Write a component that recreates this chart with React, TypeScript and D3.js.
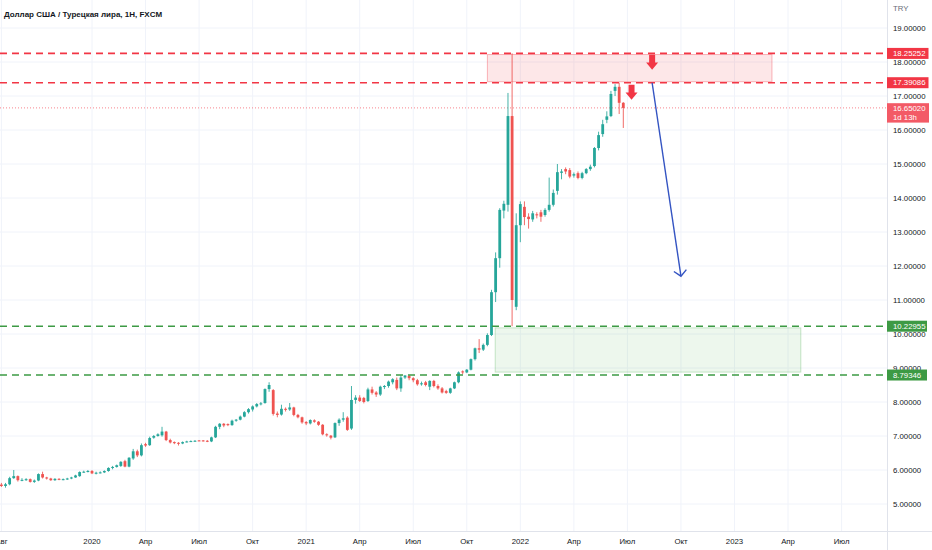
import React from 'react';
import * as d3 from 'd3';

const W = 932;
const H = 550;

const TITLE = 'Доллар США / Турецкая лира, 1Н, FXCM';
const START = '2019-07-29';

const opens = [
  5.55, 5.57, 5.53, 5.58, 5.76, 5.82, 5.70, 5.71, 5.73, 5.65,
  5.69, 5.88, 5.78, 5.75, 5.70, 5.74, 5.72, 5.73, 5.75, 5.78,
  5.82, 5.94, 5.95, 5.97, 5.90, 5.92, 5.93, 5.97, 6.06, 6.09,
  6.12, 6.26, 6.10, 6.34, 6.55, 6.43, 6.76, 6.73, 6.95, 7.00,
  7.02, 7.13, 6.88, 6.82, 6.80, 6.78, 6.82, 6.84, 6.85, 6.87,
  6.87, 6.86, 6.84, 6.96, 7.27, 7.36, 7.35, 7.32, 7.45, 7.48,
  7.57, 7.70, 7.78, 7.87, 7.95, 7.97, 8.38, 8.35, 7.66, 7.63,
  7.80, 7.78, 7.84, 7.62, 7.55, 7.41, 7.37, 7.46, 7.42, 7.33,
  7.05, 7.01, 6.96, 7.38, 7.48, 7.54, 7.22, 8.06, 8.13, 8.12,
  8.03, 8.37, 8.28, 8.22, 8.44, 8.47, 8.58, 8.65, 8.40, 8.72,
  8.77, 8.70, 8.64, 8.52, 8.58, 8.45, 8.62, 8.47, 8.40, 8.32,
  8.27, 8.40, 8.58, 8.90, 8.87, 8.95, 9.26, 9.58, 9.54, 9.68,
  9.97, 11.23, 12.23, 13.63, 13.80, 16.41, 10.80, 13.20, 13.74, 13.45,
  13.37, 13.52, 13.58, 13.50, 13.65, 13.80, 14.21, 14.74, 14.85, 14.82,
  14.66, 14.73, 14.59, 14.73, 14.85, 14.94, 15.47, 15.88, 16.30, 16.41,
  17.15, 17.27, 16.80,
];

const highs = [
  5.60, 5.62, 5.62, 5.80, 6.00, 5.84, 5.76, 5.76, 5.75, 5.72,
  5.90, 5.95, 5.80, 5.77, 5.76, 5.76, 5.75, 5.77, 5.80, 5.86,
  5.96, 5.98, 6.00, 6.00, 5.95, 5.96, 5.99, 6.08, 6.12, 6.16,
  6.26, 6.30, 6.38, 6.62, 6.60, 6.78, 6.80, 6.98, 7.03, 7.08,
  7.27, 7.15, 6.92, 6.84, 6.82, 6.84, 6.86, 6.87, 6.88, 6.88,
  6.88, 6.88, 6.98, 7.30, 7.38, 7.38, 7.37, 7.48, 7.50, 7.60,
  7.73, 7.82, 7.90, 7.97, 8.00, 8.40, 8.58, 8.38, 7.72, 7.92,
  7.84, 7.97, 7.86, 7.65, 7.57, 7.44, 7.49, 7.49, 7.44, 7.35,
  7.08, 7.03, 7.40, 7.52, 7.70, 7.58, 8.47, 8.20, 8.20, 8.15,
  8.42, 8.45, 8.32, 8.48, 8.50, 8.63, 8.70, 8.72, 8.79, 8.79,
  8.79, 8.73, 8.68, 8.60, 8.62, 8.64, 8.65, 8.52, 8.44, 8.36,
  8.42, 8.60, 8.90, 8.93, 8.97, 9.28, 9.60, 9.85, 9.72, 10.02,
  11.30, 12.40, 13.70, 13.92, 17.09, 18.25252, 13.55, 13.90, 13.90, 13.55,
  13.62, 13.58, 13.65, 13.70, 14.60, 14.25, 15.00, 14.85, 14.90, 14.88,
  14.75, 14.78, 14.77, 14.88, 14.98, 15.50, 15.95, 16.30, 16.55, 17.15,
  17.35, 17.39086, 16.82,
];

const lows = [
  5.52, 5.50, 5.48, 5.55, 5.74, 5.66, 5.67, 5.68, 5.63, 5.62,
  5.67, 5.75, 5.72, 5.68, 5.68, 5.70, 5.70, 5.71, 5.73, 5.77,
  5.80, 5.92, 5.93, 5.88, 5.87, 5.90, 5.91, 5.95, 6.02, 6.07,
  6.09, 6.08, 6.08, 6.30, 6.38, 6.40, 6.68, 6.71, 6.92, 6.98,
  6.98, 6.85, 6.78, 6.76, 6.72, 6.76, 6.81, 6.83, 6.84, 6.85,
  6.84, 6.82, 6.82, 6.94, 7.20, 7.26, 7.29, 7.30, 7.42, 7.46,
  7.55, 7.66, 7.72, 7.84, 7.90, 7.95, 8.30, 7.60, 7.55, 7.60,
  7.72, 7.74, 7.58, 7.52, 7.36, 7.32, 7.34, 7.39, 7.30, 7.02,
  6.98, 6.90, 6.94, 7.30, 7.42, 7.15, 7.18, 7.95, 8.00, 7.96,
  8.00, 8.22, 8.15, 8.18, 8.38, 8.42, 8.52, 8.35, 8.30, 8.68,
  8.64, 8.58, 8.48, 8.48, 8.46, 8.35, 8.43, 8.36, 8.25, 8.24,
  8.24, 8.38, 8.55, 8.82, 8.85, 8.93, 9.22, 9.44, 9.50, 9.64,
  9.94, 10.94, 11.95, 13.40, 13.60, 10.22955, 10.70, 12.70, 13.20, 13.10,
  13.30, 13.40, 13.30, 13.45, 13.60, 13.75, 14.10, 14.55, 14.70, 14.58,
  14.60, 14.55, 14.55, 14.70, 14.80, 14.90, 15.40, 15.80, 16.20, 16.38,
  17.00, 16.47, 16.06,
];

const closes = [
  5.57, 5.53, 5.58, 5.76, 5.82, 5.70, 5.71, 5.73, 5.65, 5.69,
  5.88, 5.78, 5.75, 5.70, 5.74, 5.72, 5.73, 5.75, 5.78, 5.84,
  5.94, 5.95, 5.97, 5.90, 5.92, 5.93, 5.97, 6.06, 6.09, 6.14,
  6.24, 6.10, 6.36, 6.55, 6.43, 6.73, 6.72, 6.94, 7.00, 7.05,
  7.13, 6.88, 6.81, 6.79, 6.78, 6.82, 6.84, 6.85, 6.86, 6.86,
  6.85, 6.84, 6.96, 7.27, 7.36, 7.31, 7.32, 7.45, 7.48, 7.57,
  7.70, 7.79, 7.87, 7.94, 7.96, 8.38, 8.50, 7.65, 7.62, 7.80,
  7.77, 7.84, 7.62, 7.55, 7.40, 7.37, 7.47, 7.42, 7.33, 7.05,
  7.02, 6.95, 7.38, 7.48, 7.52, 7.18, 8.06, 8.13, 8.03, 8.00,
  8.37, 8.27, 8.22, 8.45, 8.47, 8.60, 8.67, 8.40, 8.72, 8.78,
  8.70, 8.64, 8.52, 8.55, 8.50, 8.62, 8.47, 8.40, 8.28, 8.27,
  8.40, 8.58, 8.87, 8.87, 8.95, 9.26, 9.58, 9.54, 9.68, 9.97,
  11.23, 12.23, 13.65, 13.83, 16.41, 11.00, 13.20, 13.82, 13.44, 13.38,
  13.55, 13.49, 13.45, 13.65, 13.80, 14.15, 14.76, 14.78, 14.78, 14.63,
  14.70, 14.59, 14.73, 14.85, 14.92, 15.47, 15.85, 16.17, 16.40, 17.06,
  17.27, 16.80, 16.6502,
];

const priceTicks = [5, 6, 7, 8, 9, 10, 11, 12, 13, 14, 15, 16, 17, 18, 19];
const tickDates = [
  '2019-08-05', '2020-01-06', '2020-04-06', '2020-07-06', '2020-10-05',
  '2021-01-04', '2021-04-05', '2021-07-05', '2021-10-04', '2022-01-03',
  '2022-04-04', '2022-07-04', '2022-10-03', '2023-01-02', '2023-04-03', '2023-07-03',
];
const tickLabels = [
  'Авг', '2020', 'Апр', 'Июл', 'Окт', '2021', 'Апр', 'Июл', 'Окт',
  '2022', 'Апр', 'Июл', 'Окт', '2023', 'Апр', 'Июл',
];

const resistanceLevels = [18.25252, 17.39086];
const supportLevels = [10.22955, 8.79346];
const lastPrice = 16.6502;
const countdown = '1d 13h';

// zones: [startBar, endBar, priceTop, priceBottom]
const sellZone = [119, 188.1, 18.22, 17.42];
const buyZone = [120.9, 195.1, 10.18, 8.88];
// projection arrow: [bar, price] -> [bar, price]
const projFrom = [159, 17.39];
const projTo = [166, 11.7];
// down markers: [bar, top price]
const downMarkers = [[159, 18.21], [154, 17.33]];

const UP = '#26a69a';
const DOWN = '#ef5350';
const RED = '#f23645';
const GREEN = '#3d9a44';
const FONT = '"Liberation Sans", Arial, sans-serif';

function barOf(date: string) {
  return (Date.parse(date) - Date.parse(START)) / (7 * 86400000);
}

export default function App() {
  const plotRight = 887;
  const plotBottom = 531.5;
  const x = d3.scaleLinear().domain([23, 179]).range([92, 734.5]);
  const y = d3.scaleLinear().domain([5, 19]).range([504, 28]);
  const bodyW = 2.8;

  const candles = closes.map((c, i) => {
    const o = opens[i];
    const up = c >= o;
    const col = up ? UP : DOWN;
    const cx = x(i);
    const yt = y(Math.max(o, c));
    const yb = y(Math.min(o, c));
    return (
      <g key={i}>
        <line x1={cx} x2={cx} y1={y(highs[i])} y2={y(lows[i])} stroke={col} strokeWidth={1} opacity={0.85} />
        <rect x={cx - bodyW / 2} y={yt} width={bodyW} height={Math.max(1, yb - yt)} fill={col} />
      </g>
    );
  });

  const p1 = [x(projFrom[0]), y(projFrom[1])];
  const p2 = [x(projTo[0]), y(projTo[1])];
  const ang = Math.atan2(p1[1] - p2[1], p1[0] - p2[0]);
  const headLen = 8.5;
  const headA = (48 * Math.PI) / 180;
  const h1 = [p2[0] + headLen * Math.cos(ang + headA), p2[1] + headLen * Math.sin(ang + headA)];
  const h2 = [p2[0] + headLen * Math.cos(ang - headA), p2[1] + headLen * Math.sin(ang - headA)];

  const markerPath = (cx: number, top: number) =>
    `M${cx - 3},${top} h6 v7.7 h3 l-6,7.3 l-6,-7.3 h3 z`;

  const fmt = (v: number) => v.toFixed(5);

  return (
    <svg
      width={W}
      height={H}
      style={{ position: 'absolute', left: 0, top: 0, display: 'block', background: '#fff' }}
      fontFamily={FONT}
    >
      <defs>
        <clipPath id="plot">
          <rect x={0} y={0} width={plotRight} height={plotBottom} />
        </clipPath>
      </defs>
      <rect x={0} y={0} width={W} height={H} fill="#ffffff" />

      {/* grid */}
      <g clipPath="url(#plot)">
        {priceTicks.map((p) => (
          <line key={'h' + p} x1={0} x2={plotRight} y1={y(p)} y2={y(p)} stroke="#f0f3fa" strokeWidth={1} />
        ))}
        {tickDates.map((d) => (
          <line key={'v' + d} x1={x(barOf(d))} x2={x(barOf(d))} y1={0} y2={plotBottom} stroke="#f0f3fa" strokeWidth={1} />
        ))}
      </g>

      <g clipPath="url(#plot)">
        {/* zones */}
        <rect
          x={x(sellZone[0])}
          y={y(sellZone[2])}
          width={x(sellZone[1]) - x(sellZone[0])}
          height={y(sellZone[3]) - y(sellZone[2])}
          fill="rgba(242,54,69,0.12)"
          stroke="rgba(242,54,69,0.35)"
          strokeWidth={1}
        />
        <rect
          x={x(buyZone[0])}
          y={y(buyZone[2])}
          width={x(buyZone[1]) - x(buyZone[0])}
          height={y(buyZone[3]) - y(buyZone[2])}
          fill="rgba(76,175,80,0.1)"
          stroke="rgba(76,175,80,0.3)"
          strokeWidth={1}
        />

        {/* last price dotted line */}
        <line x1={0} x2={plotRight} y1={y(lastPrice)} y2={y(lastPrice)} stroke="#f7525f" strokeWidth={1} strokeDasharray="1,2" opacity={0.7} />

        {candles}

        {/* level lines */}
        {resistanceLevels.map((l) => (
          <line key={'r' + l} x1={0} x2={plotRight} y1={y(l)} y2={y(l)} stroke={RED} strokeWidth={1.6} strokeDasharray="7,5" />
        ))}
        {supportLevels.map((l) => (
          <line key={'g' + l} x1={0} x2={plotRight} y1={y(l)} y2={y(l)} stroke={GREEN} strokeWidth={1.6} strokeDasharray="7,5" />
        ))}

        {/* projection arrow */}
        <line x1={p1[0]} y1={p1[1]} x2={p2[0]} y2={p2[1]} stroke="#3454c2" strokeWidth={1.4} />
        <polyline
          points={`${h1[0]},${h1[1]} ${p2[0]},${p2[1]} ${h2[0]},${h2[1]}`}
          fill="none"
          stroke="#3454c2"
          strokeWidth={1.4}
        />

        {/* down markers */}
        {downMarkers.map((m, i) => (
          <path key={'m' + i} d={markerPath(x(m[0]), y(m[1]))} fill={RED} />
        ))}
      </g>

      {/* title */}
      <text x={4} y={16.5} fontSize={8} fontWeight="bold" fill="#131722">
        {TITLE}
      </text>

      {/* axes borders */}
      <line x1={plotRight + 0.5} x2={plotRight + 0.5} y1={0} y2={H} stroke="#e0e3eb" strokeWidth={1} />
      <line x1={0} x2={W} y1={plotBottom} y2={plotBottom} stroke="#e0e3eb" strokeWidth={1} />

      {/* price axis */}
      <text x={893} y={11} fontSize={7.8} fill="#6a6d78">TRY</text>
      {priceTicks.map((p) => (
        <text key={'pt' + p} x={893} y={y(p)} dy="0.35em" fontSize={7.8} fill="#131722">
          {fmt(p)}
        </text>
      ))}

      {/* time axis */}
      {tickDates.map((d, i) => (
        <text key={'tt' + d} x={x(barOf(d))} y={544} fontSize={7.8} fill="#131722" textAnchor="middle">
          {tickLabels[i]}
        </text>
      ))}

      {/* level labels */}
      {resistanceLevels.map((l) => (
        <g key={'rl' + l}>
          <rect x={887} y={y(l) - 5.5} width={41.5} height={11} fill={RED} />
          <text x={893} y={y(l)} dy="0.35em" fontSize={7.8} fill="#fff">{fmt(l)}</text>
        </g>
      ))}
      {supportLevels.map((l) => (
        <g key={'gl' + l}>
          <rect x={887} y={y(l) - 5.5} width={40} height={11} fill={GREEN} />
          <text x={893} y={y(l)} dy="0.35em" fontSize={7.8} fill="#fff">{fmt(l)}</text>
        </g>
      ))}
      <g>
        <rect x={887} y={y(lastPrice) - 4.7} width={42} height={19.4} fill="#f35a66" />
        <text x={893} y={y(lastPrice)} dy="0.35em" fontSize={7.8} fill="#fff">{fmt(lastPrice)}</text>
        <text x={893} y={y(lastPrice) + 9.4} dy="0.35em" fontSize={7.8} fill="#fff">{countdown}</text>
      </g>
    </svg>
  );
}
